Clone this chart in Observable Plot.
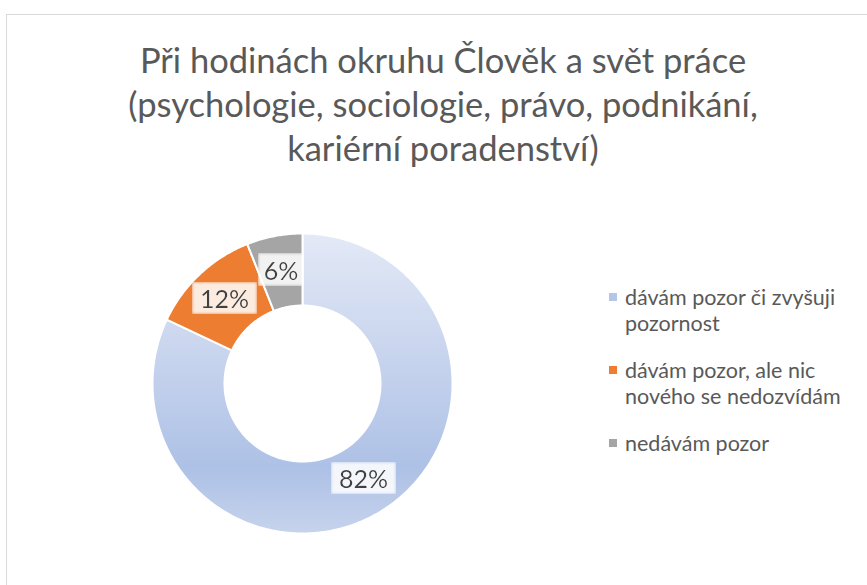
<!DOCTYPE html>
<html>
<head>
<meta charset="utf-8">
<script src="https://cdn.jsdelivr.net/npm/d3@7"></script>
<script src="https://cdn.jsdelivr.net/npm/@observablehq/plot@0.6"></script>
<style>
  html, body { margin: 0; padding: 0; background: #fff; }
  #wrap { position: relative; width: 867px; height: 585px; overflow: hidden; font-family: Lato, "Open Sans", sans-serif; }
  #frame { position: absolute; left: 6px; top: 14px; width: 900px; height: 620px; border: 1.5px solid #d9d9d9; box-sizing: border-box; }
  #title { position: absolute; left: 6px; width: 874px; top: 38px; text-align: center; color: #595959; font-size: 34.5px; line-height: 44px; }
  #chart { position: absolute; left: 0; top: 0; }
  #legend { position: absolute; left: 609px; top: 284px; color: #595959; font-size: 21.5px; line-height: 26px; white-space: nowrap; }
  .item { position: relative; padding-left: 16px; margin-bottom: 21px; }
  .sw { position: absolute; left: 0; top: 9px; width: 8px; height: 8px; }
</style>
</head>
<body>
<div id="wrap">
  <div id="frame"></div>
  <div id="title"></div>
  <div id="chart"></div>
  <div id="legend"></div>
</div>
<script>
const titleLines = ["Při hodinách okruhu Člověk a svět práce", "(psychologie, sociologie, právo, podnikání,", "kariérní poradenství)"];
const categories = ["dávám pozor či zvyšuji pozornost", "dávám pozor, ale nic nového se nedozvídám", "nedávám pozor"];
const legendLines = [["dávám pozor či zvyšuji", "pozornost"], ["dávám pozor, ale nic", "nového se nedozvídám"], ["nedávám pozor"]];
const values = [82, 12, 6];
const labels = ["82%", "12%", "6%"];
const sliceColors = ["url(#blueGrad)", "#ed7d31", "#a5a5a5"];
const swatchColors = ["#b4c7e7", "#ed7d31", "#a5a5a5"];

document.getElementById("title").innerHTML = titleLines.join("<br>");

const innerR = 0.52, outerR = 1;
const pie = d3.pie().sort(null).value(d => d.value);
const arcs = pie(categories.map((c, i) => ({cat: c, value: values[i], label: labels[i]})));

// polygon outline of each slice (angle 0 = top, clockwise)
const pts = [];
for (const a of arcs) {
  const n = Math.max(4, Math.ceil((a.endAngle - a.startAngle) / 0.01));
  for (let k = 0; k <= n; k++) {
    const t = a.startAngle + (a.endAngle - a.startAngle) * k / n;
    pts.push({cat: a.data.cat, x: outerR * Math.sin(t), y: outerR * Math.cos(t)});
  }
  for (let k = n; k >= 0; k--) {
    const t = a.startAngle + (a.endAngle - a.startAngle) * k / n;
    pts.push({cat: a.data.cat, x: innerR * Math.sin(t), y: innerR * Math.cos(t)});
  }
}
const mid = (innerR + outerR) / 2;
const labelData = arcs.map(a => {
  const t = (a.startAngle + a.endAngle) / 2;
  return {label: a.data.label, x: mid * Math.sin(t), y: mid * Math.cos(t)};
});

const svg = Plot.plot({
  width: 867, height: 585,
  x: {domain: [-1, 1], range: [152, 452], axis: null},
  y: {domain: [-1, 1], range: [533, 233], axis: null},
  color: {type: "ordinal", domain: categories, range: sliceColors},
  style: {background: "transparent", overflow: "visible"},
  marks: [
    Plot.line(pts, {x: "x", y: "y", z: "cat", fill: "cat", stroke: "white", strokeWidth: 2, curve: "linear-closed"}),
    Plot.text(labelData, {x: "x", y: "y", text: "label", fontSize: 25, fill: "#404040", fontFamily: "Lato, sans-serif", className: "slice-labels"})
  ]
});

const defs = d3.select(svg).insert("defs", ":first-child");
const g = defs.append("linearGradient").attr("id", "blueGrad").attr("x1", 0).attr("y1", 0).attr("x2", 0).attr("y2", 1);
g.append("stop").attr("offset", "0%").attr("stop-color", "#e3e9f6");
g.append("stop").attr("offset", "45%").attr("stop-color", "#c5d2ed");
g.append("stop").attr("offset", "78%").attr("stop-color", "#adc1e6");
g.append("stop").attr("offset", "100%").attr("stop-color", "#c6d3ec");
const f = defs.append("filter").attr("id", "labelBg").attr("x", -0.16).attr("y", -0.02).attr("width", 1.32).attr("height", 1.04);
f.append("feFlood").attr("flood-color", "white").attr("flood-opacity", 0.85).attr("result", "bg");
f.append("feGaussianBlur").attr("in", "bg").attr("stdDeviation", 1.5).attr("result", "bgb");
const fm = f.append("feMerge");
fm.append("feMergeNode").attr("in", "bgb");
fm.append("feMergeNode").attr("in", "SourceGraphic");
d3.select(svg).selectAll(".slice-labels text").attr("filter", "url(#labelBg)");

document.getElementById("chart").appendChild(svg);

const legend = d3.select("#legend");
legendLines.forEach((lines, i) => {
  const it = legend.append("div").attr("class", "item");
  it.append("div").attr("class", "sw").style("background", swatchColors[i]);
  lines.forEach(l => it.append("div").text(l));
});
</script>
</body>
</html>
